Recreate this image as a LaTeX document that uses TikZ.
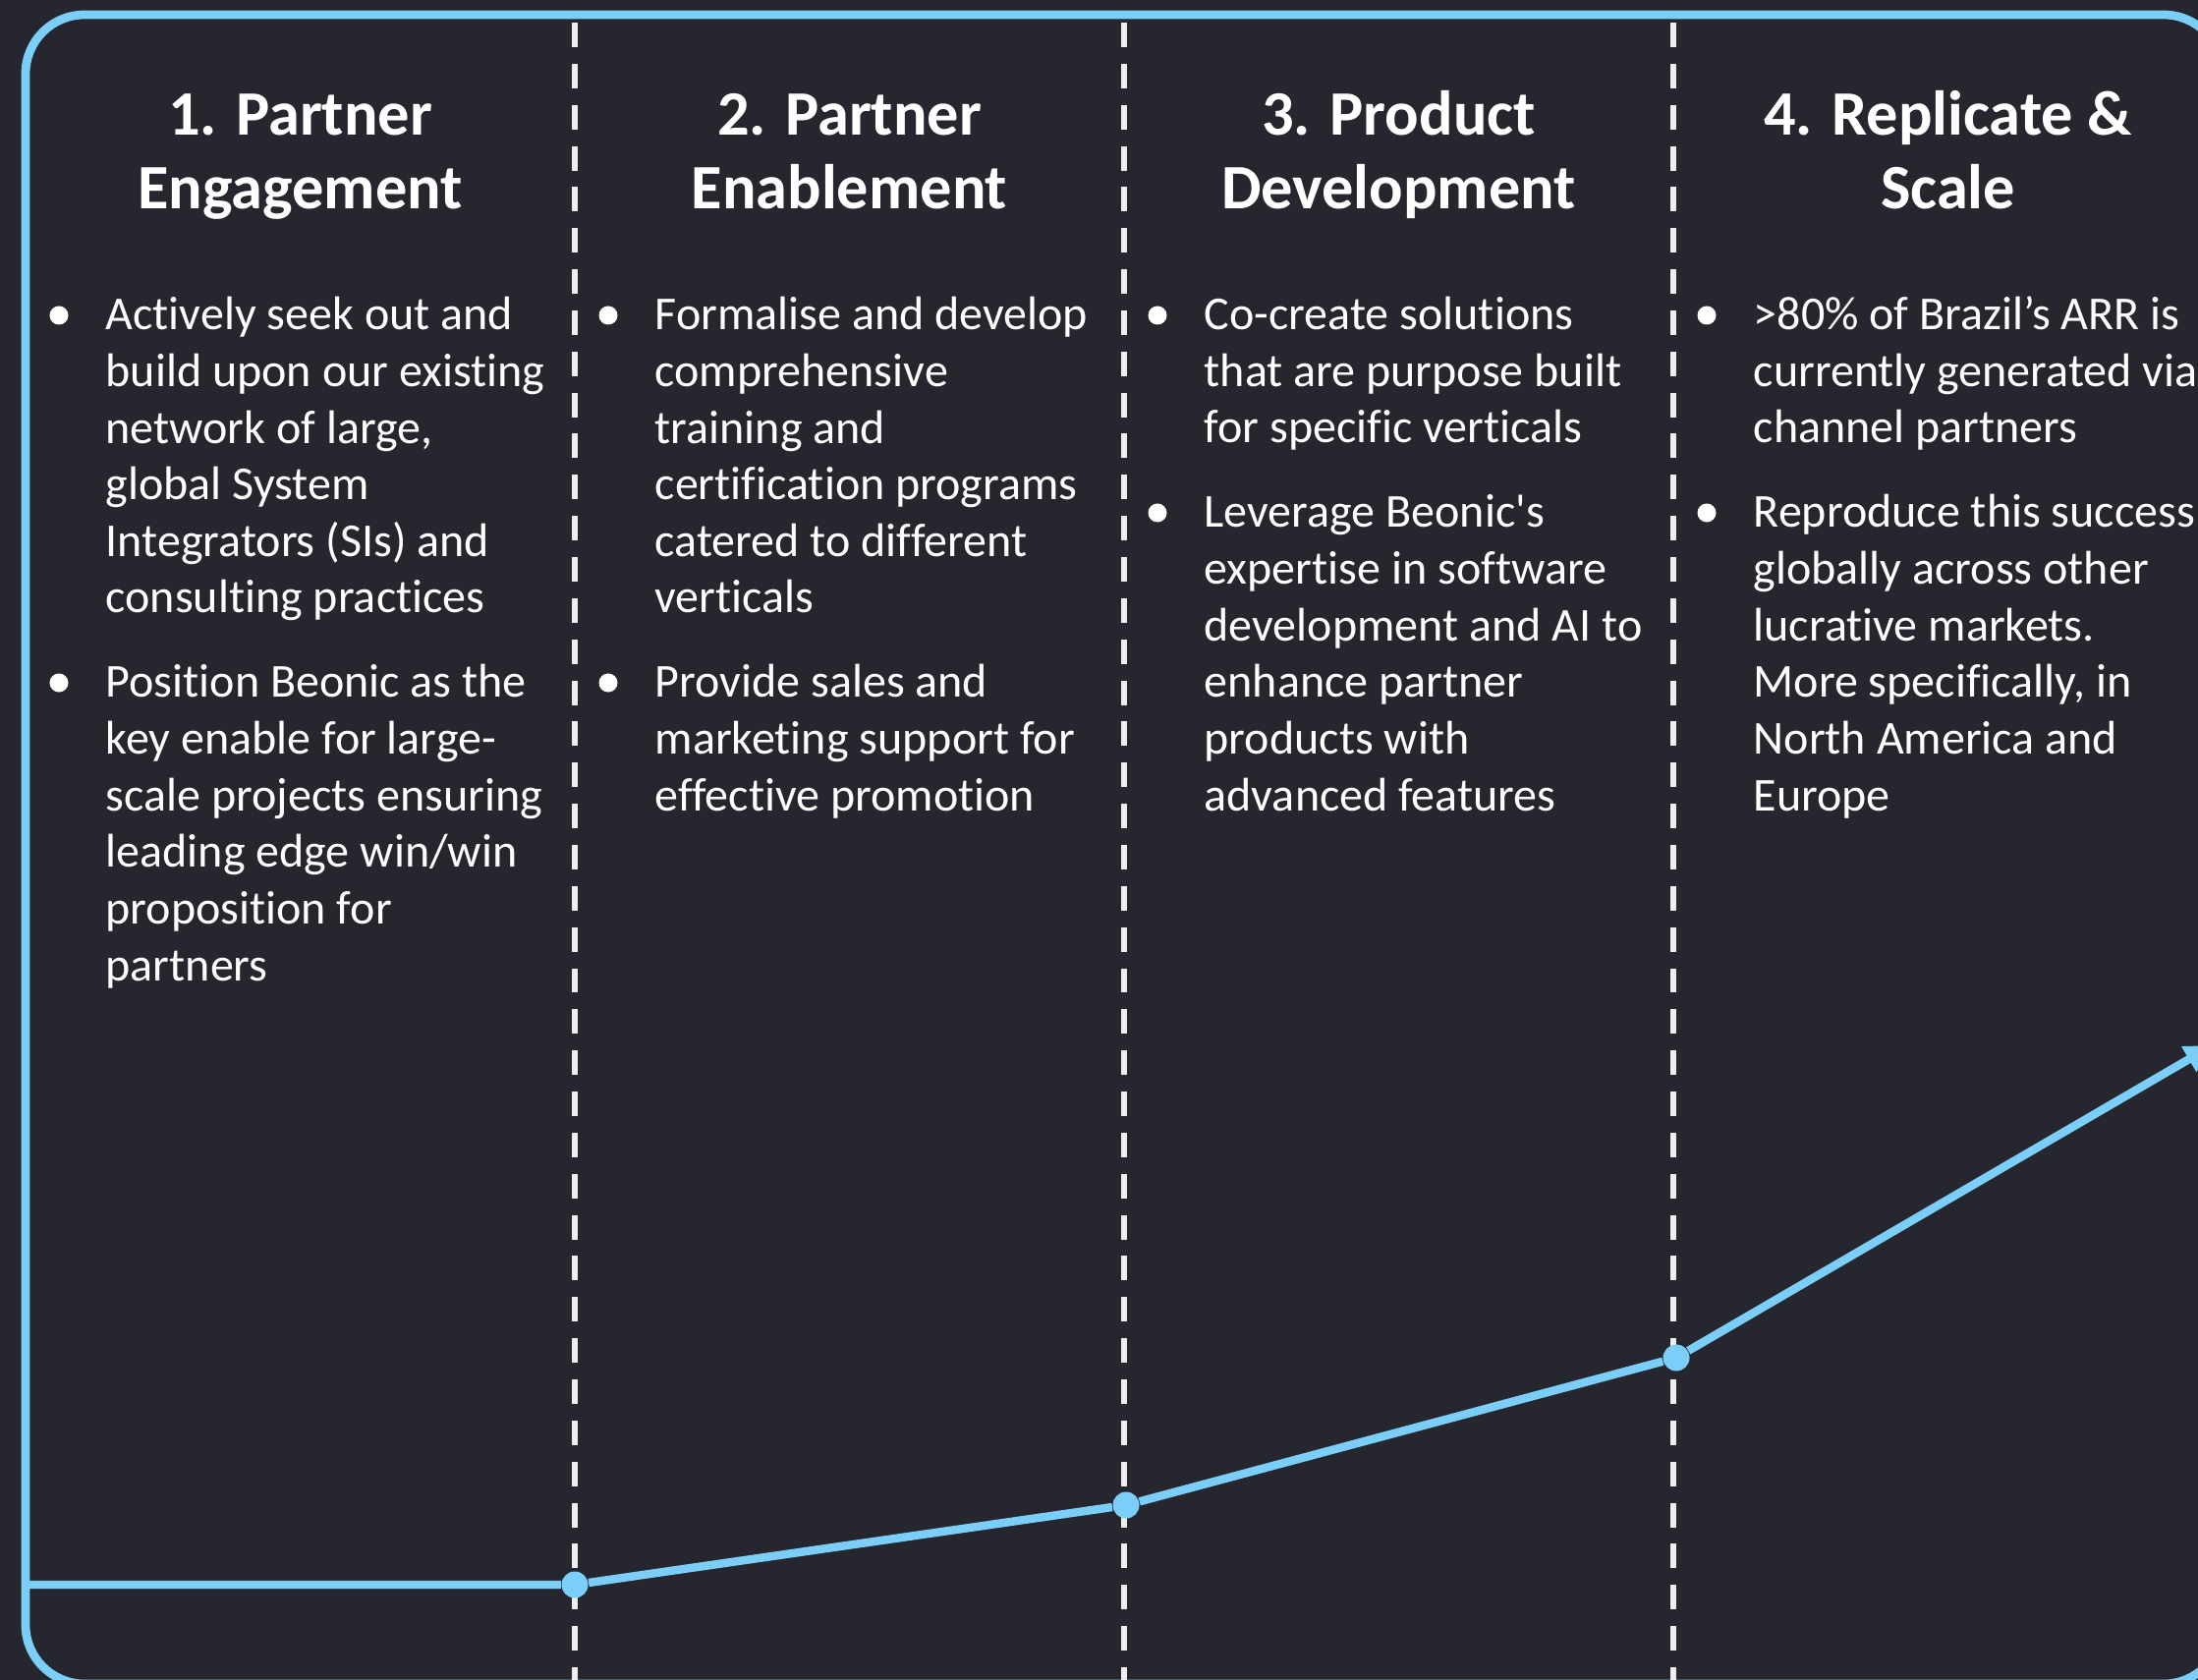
\documentclass[tikz,border=0pt]{standalone}
\usepackage{fontspec}
\setmainfont{Carlito}[Ligatures={TeXOff,CommonOff}]
\usetikzlibrary{arrows.meta}
\definecolor{bgdark}{RGB}{38,38,47}
\definecolor{lineblue}{RGB}{122,206,248}
\definecolor{dashwhite}{RGB}{238,238,238}

\begin{document}
\begin{tikzpicture}[x=0.01cm,y=-0.01cm,
    head/.style={anchor=base,align=center,inner sep=0pt,text=white,
      font=\fontsize{18.3}{21.5}\selectfont\bfseries},
    bullettext/.style={anchor=base west,align=left,inner sep=0pt,text=white,
      font=\fontsize{13.66}{16.39}\selectfont},
    bulletmark/.style={circle,fill=white,inner sep=0pt,minimum size=0.19cm},
    stagedot/.style={circle,fill=lineblue,inner sep=0pt,minimum size=0.27cm},
    divider/.style={dashwhite,line width=1.7pt,dash pattern=on 7.1pt off 4.8pt}]
        \useasboundingbox (0,0) rectangle (2237,1710);
        \fill[bgdark] (0,0) rectangle (2237,1710);
        \clip (0,0) rectangle (2237,1710);

        \draw[lineblue,line width=2.5pt,rounded corners=0.6cm] (26,15) rectangle (2262,1714);
        \foreach \x in {585,1144,1703}{
          \draw[divider] (\x,23) -- (\x,1710);
        }

        % multi-line nodes: base = last line
        \node[head] (h1) at (305.5,213) {1. Partner\\Engagement};
        \node[head] (h2) at (864.5,213) {2. Partner\\Enablement};
        \node[head] (h3) at (1423.5,213) {3. Product\\Development};
        \node[head] (h4) at (1982.5,213) {4. Replicate \&\\Scale};

        \node[bullettext] (t1a) at (107,624) {Actively seek out and\\build upon our existing\\network of large,\\global System\\Integrators (SIs) and\\consulting practices};
        \node[bullettext] (t1b) at (107,998) {Position Beonic as the\\key enable for large-\\scale projects ensuring\\leading edge win/win\\proposition for\\partners};
        \node[bullettext] (t2a) at (666,624) {Formalise and develop\\comprehensive\\training and\\certification programs\\catered to different\\verticals};
        \node[bullettext] (t2b) at (666,825) {Provide sales and\\marketing support for\\effective promotion};
        \node[bullettext] (t3a) at (1225,451) {Co-create solutions\\that are purpose built\\for specific verticals};
        \node[bullettext] (t3b) at (1225,825) {Leverage Beonic's\\expertise in software\\development and AI to\\enhance partner\\products with\\advanced features};
        \node[bullettext] (t4a) at (1784,451) {>80\% of Brazil’s ARR is\\currently generated via\\channel partners};
        \node[bullettext] (t4b) at (1784,825) {Reproduce this success\\globally across other\\lucrative markets.\\More specifically, in\\North America and\\Europe};

        \node[bulletmark] (m1a) at (60,321) {};
        \node[bulletmark] (m1b) at (60,695) {};
        \node[bulletmark] (m2a) at (619,321) {};
        \node[bulletmark] (m2b) at (619,695) {};
        \node[bulletmark] (m3a) at (1178,321) {};
        \node[bulletmark] (m3b) at (1178,522) {};
        \node[bulletmark] (m4a) at (1737,321) {};
        \node[bulletmark] (m4b) at (1737,522) {};

        \coordinate (p0) at (26,1613);
        \node[stagedot] (p1) at (585,1613) {};
        \node[stagedot] (p2) at (1146,1532) {};
        \node[stagedot] (p3) at (1706,1382) {};
        \coordinate (tip) at (2252,1064);
        \draw[lineblue,line width=2.4pt] (p0) -- (p1) -- (p2) -- (p3);
        \draw[lineblue,line width=2.4pt,-{Triangle[length=8pt,width=8pt]}] (p3) -- (tip);
\end{tikzpicture}
\end{document}
